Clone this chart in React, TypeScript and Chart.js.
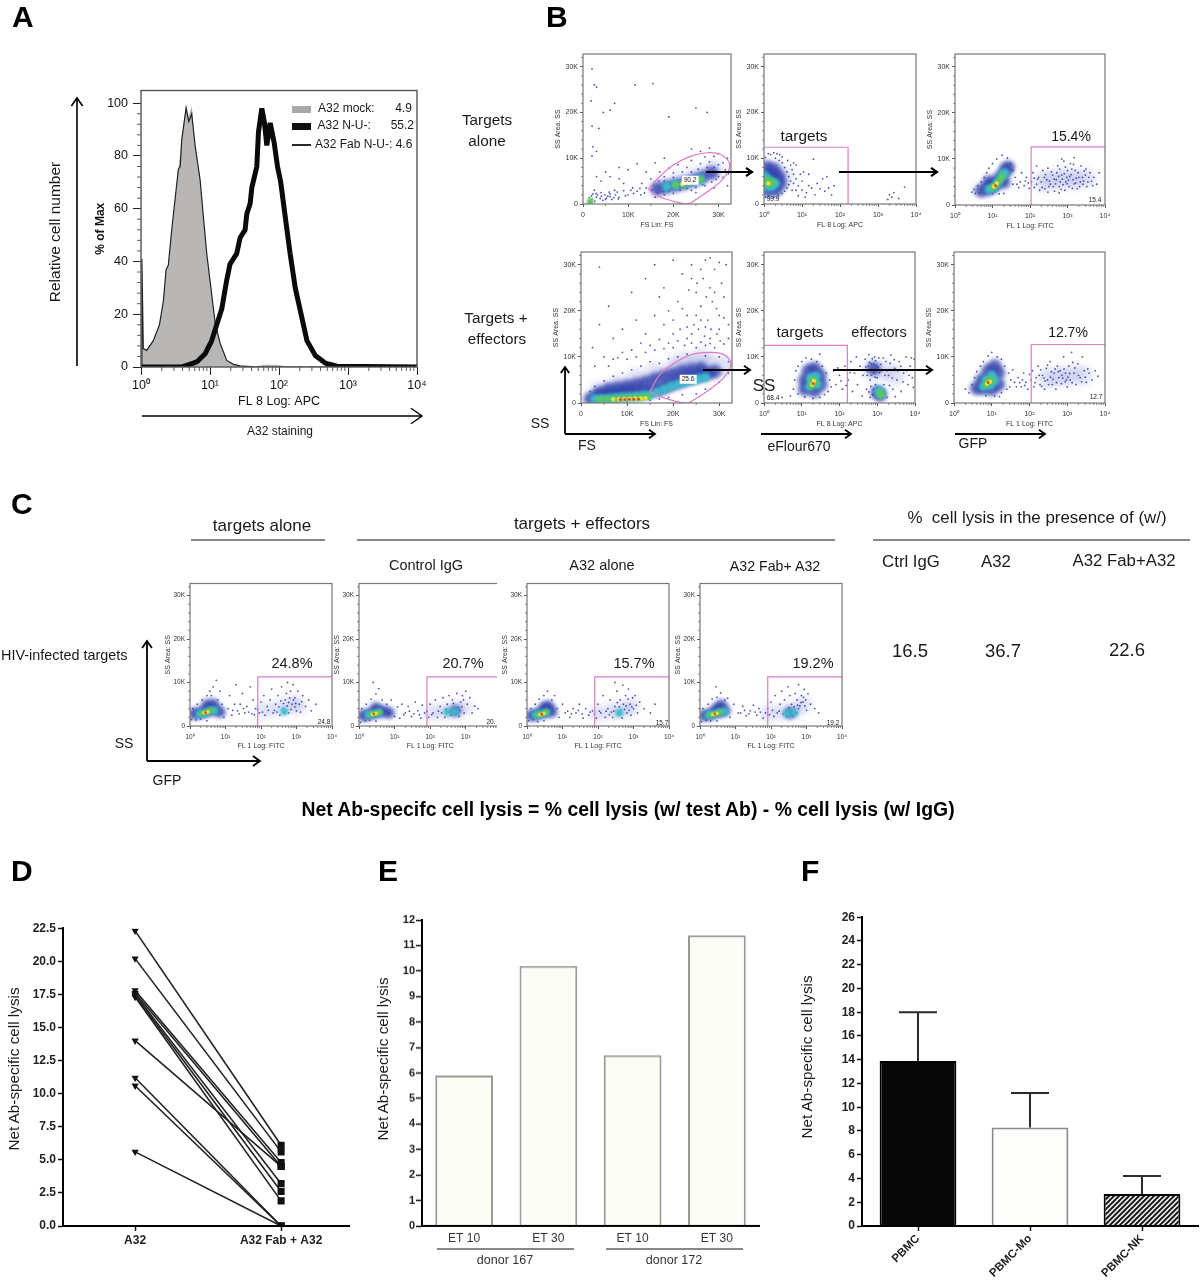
import React, { useEffect, useRef } from "react";
import { Chart, registerables } from "chart.js";

Chart.register(...registerables);
Chart.defaults.font.family = '"Liberation Sans", Arial, sans-serif';

type P = number[];

// ---------- Panel A : histogram values (FL 8 value, % of max) ----------
const mockX = [1, 1.03, 1.08, 1.21, 1.51, 1.85, 2.11, 2.31, 2.49, 2.79, 3.01, 3.48, 3.89, 4.5, 4.92, 5.43, 6.08, 7.18, 8.02, 8.97, 10.3, 11.9, 14, 17.5, 21.9, 27.3, 42.7, 60, 80, 100, 140, 10000];
const mockY = [0, 41, 7, 6.3, 10, 16, 25, 37, 38.6, 52, 60, 75, 86, 100, 95, 99, 84, 71, 57, 43, 30, 16.5, 9, 2.5, 1, 0.4, 0.1, 0.9, 0.9, 0.8, 0.1, 0];
const fabX = [1, 1.03, 1.08, 1.21, 1.51, 1.85, 2.11, 2.31, 2.49, 2.79, 3.01, 3.48, 3.7, 3.89, 4.5, 4.92, 5.43, 6.08, 7.18, 8.02, 8.97, 10.3, 11.9, 14, 17.5, 21.9, 27.3, 42.7, 10000];
const fabY = [0, 41, 7, 6.3, 10, 16, 25, 37, 38.6, 52, 60, 75, 76, 86, 98, 93, 96, 84, 71, 57, 43, 30, 16.5, 9, 2.5, 1, 0.4, 0.1, 0];
const nuX = [1, 3.89, 4.6, 6.43, 8.49, 10.6, 12.5, 14.8, 17.5, 19.5, 24.4, 27.3, 32.3, 34.1, 38.2, 40.4, 47.7, 50.4, 56.4, 61.6, 66.6, 74.5, 85.1, 95.1, 106, 123, 145, 172, 203, 254, 335, 468, 690, 10000];
const nuY = [0, 0, 0.6, 1.9, 5, 10, 16, 22, 33, 39, 43, 49, 52, 58, 62, 68, 76, 89, 98, 92.5, 84, 92.5, 85, 76, 70, 57, 43, 30, 21.5, 10, 4.4, 1.5, 0.3, 0];
const aLegendNames = ["A32 mock:", "A32 N-U-:", "A32 Fab N-U-: 4.6"];
const aLegendValues = ["4.9", "55.2"];

// ---------- Panel B : flow cytometry events ----------
const b1Dots: P[] = [[2,29.5],[2.5,26],[3,25.5],[1.8,22.5],[6,20.5],[4.5,20],[11.5,26],[15.5,26.3],[7,22],[25,21],[27.5,20],[19,19],[2,17],[3.5,16.5],[2.2,12.5],[3,11.5],[2,10.5],[8,8],[10,7.5],[12,8.8],[14,7],[16,9],[18,10],[24,12],[26,11.5],[28,12.2],[30,11],[32,10],[31,9],[29,10.4],[27,10.3],[24,9.5],[21,8.6],[19,7.8],[17,7],[15,5.5],[13,4.5],[11,3.5],[9,4.5],[7,3],[6,2.2],[4,2.5],[3,1.5],[2,1],[2.5,3],[5,1],[8,1.5],[10,2],[12,2.8],[14,3.5],[16,1.5],[18,2],[20,2.3],[24,3],[27,4],[30,6],[31.5,7.5],[32,4],[29,3.5],[25,2.5],[3,6],[4,5],[5,7],[6,6],[8,5.5],[7.2,2],[3.8,1.2],[5.5,1.7],[6.8,1.4],[2.6,0.6],[4.4,0.8],[1.9,1.8],[2.2,2.2],[3.2,2],[4.8,2],[5.8,2.6],[6.4,1],[7.6,2.6],[9,2.9],[10.6,3],[12.6,3.4],[13.6,2.4],[15.2,3],[28,9.2],[26,8.8],[23,8],[30,8.6],[31,7],[22,7],[20,6.8],[18,6],[16.5,2.4],[17.8,2.7],[19,2.9],[21.5,3],[23,3.4],[25,3.6],[26.5,4.2],[28.5,4.8],[29.5,5.4],[31,5.8],[32.2,6.6],[15.5,4.2],[16.8,5],[18,5],[20,5.8],[22,6],[24,7],[25.5,7.6],[27.5,8],[29,8],[1.4,1.4],[2.9,2.3],[4.1,1.7],[5.2,1.3],[6,1.6],[7.8,1.1],[9.4,1.8],[11.2,2.3],[12.8,2]];
const b1Haze: P[] = [[17,3.6],[21,4.8],[25,6],[29,7.6]];
const b1Blue: P[] = [[16.5,3.3],[18.5,3.7],[20.5,4.1],[22.5,4.6],[24.5,5.2],[26.5,5.9],[28.5,6.8]];
const b1Cyan: P[] = [[18.5,3.8],[20.5,4.2],[22.5,4.5],[24.5,5],[26,5.5]];
const b1Green: P[] = [[20.5,4.2],[22.5,4.5],[24.5,5],[26,5.4],[1.6,0.5]];
const b1Yellow: P[] = [[22,4.3],[23.5,4.6]];
const b1Red: P[] = [[22.8,4.4]];
const b1Gate: P[] = [[14.5,3.2],[17,6],[20,8.5],[24,10.5],[27.5,11.2],[30.5,10.8],[32.5,8.5],[31,5.5],[28,3],[25,1],[23,0],[20,0.6],[17,1.6],[14.5,3.2]];

const b2Dots: P[] = [[1.1,1.5],[1.3,1.8],[1.8,1.5],[2.4,2],[3,2.3],[3.5,2.8],[4,3.5],[4.5,4.2],[5,5],[4.5,6],[4,7],[3.5,8],[3,9],[2.5,9.5],[2,10],[1.5,10.8],[1.1,10.2],[2.2,11],[3,10.3],[5.5,3],[6,4.5],[6,6.5],[7,3],[8,4],[10,3],[10,5],[13,2.5],[15,4],[18,3.5],[22,2],[25,4.5],[30,3.3],[35,5.5],[40,2.8],[50,3.5],[60,2],[70,4],[20,9.8],[45,6],[1800,1],[2000,2],[2300,1.5],[2600,2.5],[5000,3.7],[3500,1.2],[15,6.5],[12,1.5],[8,1.8],[7,8.5],[6,9],[5,8.5],[4.2,9.5],[5.5,7.5],[7,5.5],[9,6.5],[11,7],[1.3,11],[1.8,11.2],[2.6,10.8]];
const b2Haze: P[] = [[1.3,5],[1.8,7],[2.4,4.8],[3.2,6]];
const b2Blue: P[] = [[1.2,3],[1.5,4.5],[1.5,6],[1.8,7.5],[1.2,8],[2.6,4.5],[2.4,6],[1.05,5.5],[2,3]];
const b2Cyan: P[] = [[1.2,3.9],[1.5,5],[2,4.5],[1.1,6],[1.6,3.8]];
const b2Green: P[] = [[1.4,4.4],[1.1,4.6],[1.7,4.7],[1.25,5.2]];
const b2Yellow: P[] = [[1.3,4.5]];
const b2Red: P[] = [];
const b2Gate: P[] = [[1,12.4],[163,12.4],[163,0]];

const b3Dots: P[] = [[2.8,2.8],[3.5,2.5],[4.5,2.6],[3.2,3.4],[4,4.2],[5,5],[6,6],[7,7],[8,8],[10,9],[13,10],[18,10.8],[25,10.2],[30,9],[35,7.5],[40,6],[35,4.5],[45,4.5],[55,5],[70,4.2],[80,6],[90,4.8],[110,5],[120,7],[130,3.8],[150,4.5],[170,6],[200,5],[220,7.5],[250,3.5],[280,5.5],[300,8],[350,4.5],[400,6.5],[450,3],[500,5.5],[550,8.5],[600,4],[700,6.5],[800,9.5],[850,3.2],[900,5],[1000,7.5],[1100,4],[1200,9],[1400,5.5],[1600,7.5],[1800,3.5],[2000,6],[2300,8.5],[2600,4.5],[3000,6.5],[3500,5],[4000,7],[5000,6],[6000,4.5],[7000,7],[700,10],[1500,10.3],[300,2.8],[600,2.6],[150,8.5],[60,7],[20,2.5],[15,2.4],[10,2.5],[180,3.2],[260,6.6],[330,5.2],[420,4],[520,7],[640,5],[760,4.4],[950,6],[1250,6.6],[1500,4.6],[1700,5.8],[2200,5],[2800,7.4],[3300,4],[4400,5.2],[130,5.8],[95,3.6],[75,5.2],[50,3.8],[160,5.6],[210,3.8],[240,6],[320,4],[370,7.2],[440,5.6],[480,4.6],[580,6.2],[620,7.8],[680,3.4],[730,5.6],[820,6.8],[880,8.2],[980,4.6],[1050,5.4],[1150,6.2],[1300,7.8],[1350,3.6],[1450,8.8],[1650,4.8],[1900,7],[2100,4],[2500,6],[2700,5.2],[3100,7.8],[3700,6],[4700,4.2]];
const b3Haze: P[] = [[220,5],[400,5.5],[800,5.8],[1500,5.5],[3000,5.8]];
const b3Blue: P[] = [[5,3.1],[7.5,3.5],[12,4.6],[16,6],[22,7.5],[10,4],[26,8.2],[8,5],[20,5]];
const b3Cyan: P[] = [[8,3.4],[11,3.9],[14,5],[18,6.3],[21,7]];
const b3Green: P[] = [[10,3.8],[13,4.5],[16,5.5],[18,6.2]];
const b3Yellow: P[] = [[11,4],[13,4.7]];
const b3Red: P[] = [[12,4.2]];
const b3Gate: P[] = [[10000,12.6],[107,12.6],[107,0]];

const b4Dots: P[] = [[4,29.5],[6,21],[11,24],[14,27],[16,30],[18,25],[20,31],[21,22],[22,28],[23,19],[24,30],[25,24],[25.5,16],[26,21],[26.5,27],[27,31],[27.5,18],[28,25],[28.5,22],[29,29],[29.5,15],[30,19],[30.5,26],[31,23],[31.5,30],[32,17],[23,14],[24,13],[22.5,12.5],[20,15],[18,17],[16,19],[14,15],[12,18],[9,16],[7,14],[4,17],[2.5,12],[5,10],[3,8],[6,8],[8,9.8],[10,9.5],[12,10],[14,11],[16,11.5],[18,11.8],[20,12],[25,12],[27,12.5],[29,12],[31,12.8],[32,14],[24.5,17],[26.8,14.5],[28.2,16],[30.2,13.5],[21.5,16],[19,20],[17,23],[27.2,23],[29.4,20.5],[25.2,26],[23.4,24.5],[15,9],[13,8],[11,7.2],[9,6.5],[7,5.8],[5,4.8],[3,3.6],[2,2.5],[17,8.6],[19,9.6],[21,10],[23,10.6],[27,10.2],[30,10],[32,9],[32,6.5],[30,4.6],[27,3],[25,2],[22,1.8],[19,1.2],[17,0.9],[15,0.6],[10,0.2],[6,0.2],[26,18],[24,15],[28,14],[30,16],[31,18.5],[27,16.5],[23,16.5],[22,20.5],[25,19],[29,24],[26,29],[24,27],[28,31.5],[30,30.5],[20,18],[21,13.5],[19,13],[17,13.8],[15,12.5],[13,13],[11,11.5],[9,11],[7,9.5],[26,13.2],[28,12.9]];
const b4Haze: P[] = [[4,2.6],[8,4],[12,5.5],[16,6.6],[20,7.6],[24,8.2],[28,8.4],[31,8],[22,9],[26,9.8]];
const b4Blue: P[] = [[2,0.9],[3.5,1.2],[5,1.5],[6.5,1.7],[8,1.9],[9.5,2.1],[11,2.2],[12.5,2.3],[14,2.5],[15.5,2.7],[17,3],[18.5,3.6],[20,4.2],[21.5,4.7],[23,5.2],[24.5,5.6],[26,6],[27.5,6.4],[29,6.8],[4,2.2],[6,3],[8,3.3],[10,3.6],[12,4],[14,4.5],[16,5.2],[18,5.8],[20,6.3],[22,6.8],[24,7.2],[26,7.5]];
const b4Cyan: P[] = [[3,0.9],[4.5,0.95],[6,1],[7.5,1.15],[9,1.3],[10.5,1.4],[12,1.5],[13.5,1.65],[15,1.8],[16.5,2.4],[18,3],[19.5,3.6],[21,4.1],[22.5,4.5],[24,4.9],[25.5,5.3],[27,5.6]];
const b4Green: P[] = [[4,0.8],[5.5,0.85],[7,0.9],[8.5,1],[10,1.1],[11.5,1.15],[13,1.2],[14.5,1.4]];
const b4Yellow: P[] = [[7,0.8],[8.2,0.85],[9.4,0.9],[10.6,0.95],[11.8,1],[13,1],[14,1.05]];
const b4Red: P[] = [[8.5,0.75],[9.5,0.75],[10.5,0.8],[11.5,0.8],[12.5,0.8]];
const b4Gate: P[] = [[15,2.5],[17,6],[20,8.5],[24,10.5],[28,11],[31,10.5],[32.5,8.5],[31,5.5],[28,3],[25,1],[23,0],[20,0.5],[17,1.5],[15,2.5]];

const b5Dots: P[] = [[5,1.5],[6,3],[6.5,5],[7,7],[8,8],[10,9],[13,9.8],[18,9.5],[25,9],[35,8],[45,6.5],[55,5],[60,3.5],[50,2.5],[40,1.8],[30,1.2],[20,1],[12,1.3],[8,2],[70,7],[80,4],[100,6],[120,3],[140,8],[170,5],[200,9],[220,2.5],[250,6.5],[280,10],[300,4],[350,8],[400,1.5],[420,6],[480,9.5],[520,3],[560,7],[600,10.5],[650,5],[700,8.5],[750,1.8],[800,6.5],[850,10],[900,4],[950,8],[1000,5.5],[1100,9.8],[1300,7],[1500,4],[1700,9],[2000,6],[2300,10.4],[2600,3],[2900,7.5],[3300,5],[3800,9],[4300,2.5],[5000,6.5],[5800,10],[6500,4],[7500,8],[8500,5.5],[9500,9.5],[650,1.2],[3000,1.4],[1800,1.2],[500,7.8],[620,8.8],[760,7.2],[900,9.2],[1050,7.6],[680,3.6],[1400,2.6],[2100,3.8],[1600,6],[3,1.2],[30,10.6],[540,6],[580,8],[700,6],[740,9.6],[820,8.4],[880,5.6],[1150,6.6],[1250,8.4],[1450,9.8],[1800,7],[2200,8.6],[2500,5.4],[2800,9.4],[3500,7],[4200,8],[4800,4.6],[6000,7],[7000,6],[8000,9.8],[9000,3.4],[1000,3.4],[800,3],[600,2.4],[90,7.6],[110,4.8],[150,3.8],[190,6.6]];
const b5Haze: P[] = [[700,7],[1500,7],[3000,6]];
const b5Blue: P[] = [[12,3],[12,5],[15,7],[22,7.5],[30,6],[32,4],[22,2.6],[18,4.5],[1200,1.8],[1000,2.4],[800,7.5]];
const b5Cyan: P[] = [[16,3.6],[17,5.4],[24,5.8],[26,4],[20,4.6],[1200,2],[1100,2.6]];
const b5Green: P[] = [[18,3.8],[19,5],[23,4.4],[1200,2.2],[1250,1.7]];
const b5Yellow: P[] = [[19,4],[21,4.8]];
const b5Red: P[] = [[20,4.2]];
const b5Gate: P[] = [[1,12.5],[162,12.5],[162,0]];

const b6Dots: P[] = [[2,3],[2.5,2.2],[3,4],[3.5,5.5],[4,6.8],[5,8],[6,9],[8,10.2],[10,11],[14,10],[18,9.5],[22,8],[28,6.5],[32,5],[25,3],[18,2.2],[12,1.5],[7,1.6],[40,4.5],[50,5.5],[60,3.5],[70,6.5],[80,4.5],[90,3],[110,5],[120,7],[130,3.5],[150,5.5],[170,8],[190,4],[220,6],[250,3],[280,7.5],[300,5],[350,9],[400,4],[450,6.5],[500,3],[550,8],[600,5.5],[700,4.2],[800,10],[900,6.5],[1000,3.5],[1100,8],[1200,5],[1300,11],[1500,6.5],[1700,4],[1900,8.5],[2200,5.5],[2500,10],[2800,7],[3200,4.5],[3800,6.5],[4500,5],[5500,7],[6500,5.8],[300,8.2],[650,7],[480,7.4],[360,5.6],[260,4.8],[200,7.2],[760,5.4],[880,4.6],[1050,5.6],[1400,8.8],[30,3.5],[36,7.2],[16,1.4],[45,3.5],[55,4.4],[65,5],[75,3.8],[100,6.2],[140,4.4],[180,6],[210,3.6],[240,5.4],[320,4],[380,6.8],[420,5.2],[520,4.4],[580,6.8],[720,6],[820,7.4],[950,5],[1150,6.4],[1350,4.4],[1600,7.6],[2000,6],[2400,4.6],[3000,5.6],[3500,7.4]];
const b6Haze: P[] = [[300,5.4],[600,5.6],[1200,6],[2500,6]];
const b6Blue: P[] = [[4,3.2],[5.5,5],[8,7],[12,8],[15,6.5],[15,4],[10,3],[6,3.2],[8,4.8]];
const b6Cyan: P[] = [[6,3.6],[7,5],[10,6],[12,4.8],[9,3.8]];
const b6Green: P[] = [[7,3.9],[8,5],[10,4.8]];
const b6Yellow: P[] = [[7.5,4.2],[9,4.6]];
const b6Red: P[] = [[8,4.4]];
const b6Gate: P[] = [[10000,12.7],[111,12.7],[111,0]];

// ---------- Panel C : flow cytometry events ----------
const c1Dots: P[] = [[1.1,1.5],[1.5,1.4],[2,1.6],[3,1.2],[1.2,4],[1.6,5],[2.2,6],[3,7],[3.6,8],[4.5,9],[5.5,10.5],[4,7],[6,6],[7,8],[8,5],[9,2],[12,4],[13,7],[15,2.5],[18,5],[20,9.5],[22,3.5],[26,5],[30,7.5],[35,3],[40,4.5],[50,9],[55,2.8],[60,6],[70,4],[90,3],[100,5.5],[120,7],[130,2.5],[150,4.5],[180,6],[200,8.5],[220,3],[260,5],[300,7],[340,2.5],[380,9],[420,4],[480,6],[520,7.5],[560,10],[600,3],[680,8],[750,5],[800,9.5],[900,6.5],[1000,3.5],[1100,8],[1200,5],[1500,7],[1800,4.5],[2200,6],[2600,3.5],[3500,5],[600,5.4],[430,5.2],[320,4.4],[240,3.6],[700,3.8],[900,4.4],[1300,3.2],[16,3.6],[24,2.8],[32,4],[45,3.2],[65,2.6],[80,3.8],[110,3.2],[160,3.6],[280,3.2],[360,5.8],[460,3],[550,4.6],[640,6.4],[820,6],[950,5.2],[1400,5.6]];
const c1Haze: P[] = [[120,3.6],[300,4],[700,5],[1100,4.6]];
const c1Blue: P[] = [[1.3,2.8],[1.8,3],[2.5,3.2],[3.5,3.6],[5,3.8],[3,4.8],[4.5,5],[7,3.2]];
const c1Cyan: P[] = [[1.8,2.8],[2.5,3],[3.5,3.5],[5,3.6],[450,3.4]];
const c1Green: P[] = [[2.2,2.9],[3,3.2],[4,3.7]];
const c1Yellow: P[] = [[2.5,3.1],[3.2,3.3]];
const c1Red: P[] = [[2.7,3.1]];
const c2Dots: P[] = [[1.1,0.8],[1.5,1.2],[2,1.3],[3,1.1],[1.2,4],[1.6,5],[2.2,6.2],[3,7.4],[3.6,8.6],[2.5,10],[4.5,6],[6,5],[7,3],[8,6],[10,2.2],[12,4.4],[14,1.8],[16,5],[20,3],[24,4.5],[30,2.2],[38,5.5],[45,3.5],[55,1.8],[60,4.8],[70,3],[90,2],[100,5],[120,3],[140,6],[160,2],[190,4.5],[230,6.5],[260,2],[300,5],[340,7],[380,2.5],[420,6],[500,4],[560,7.5],[640,2.2],[720,5.5],[800,7],[900,3],[1000,8],[1100,5],[1300,6.5],[1500,3],[1800,4.6],[2200,4],[450,5.2],[620,4.2],[780,4.4],[860,6],[18,2.6],[26,3.4],[35,2.8],[50,2.6],[80,3.4],[110,2.6],[170,3.4],[210,3],[280,3.8],[360,3.2],[520,2.8],[680,3.6]];
const c2Haze: P[] = [[110,3.1],[250,3.4],[500,3.6],[900,4.2]];
const c2Blue: P[] = [[1.3,2.4],[1.8,2.6],[2.5,3],[3.5,3.2],[5,3.4],[3,4.2],[7,3],[500,3.5]];
const c2Cyan: P[] = [[1.8,2.6],[2.5,2.8],[3.5,3.1],[300,3.2],[500,3.3]];
const c2Green: P[] = [[2.2,2.7],[3,2.9],[3.8,3.2]];
const c2Yellow: P[] = [[2.4,2.7],[3,2.9]];
const c2Red: P[] = [[2.6,2.8]];
const c3Dots: P[] = [[1.1,1.2],[1.5,1.5],[2,1],[3,1.2],[1.3,4],[1.7,5],[2.2,6.2],[3,7],[3.8,8],[5,6],[6,7],[7,4],[8,2],[10,5],[12,3],[16,2],[20,4],[24,3],[30,5],[38,1.8],[45,4],[55,2.5],[70,3.5],[90,1.8],[100,5],[120,3],[140,7],[160,2],[190,4],[220,6],[260,2],[300,4.5],[340,8],[380,3],[420,6],[480,1.8],[520,5],[600,7],[650,3],[720,8.5],[800,5],[850,2.5],[950,6.5],[1000,4],[1100,7],[1300,3],[1500,5.5],[2000,4],[3000,3],[4000,5],[300,10],[500,9.4],[700,6.2],[560,3.8],[400,4.4],[240,3.2],[14,3.4],[18,2.8],[28,3.6],[36,2.8],[60,3.2],[80,2.8],[110,3.4],[170,3.4],[210,2.6],[280,3.4],[350,5.4],[450,3.6],[620,4.6],[750,3.6],[900,4.4],[1200,4.8]];
const c3Haze: P[] = [[100,3],[250,3.4],[500,3.6],[900,4.6]];
const c3Blue: P[] = [[1.3,2.4],[1.8,2.6],[2.5,3],[3.5,3.3],[5,3.3],[3,4.2],[4,4.6]];
const c3Cyan: P[] = [[1.7,2.5],[2.4,2.8],[3.5,3.1],[400,3]];
const c3Green: P[] = [[2,2.6],[2.7,2.8],[3.5,3.2]];
const c3Yellow: P[] = [[2.3,2.6],[3,2.9]];
const c3Red: P[] = [[2.6,2.7]];
const c4Dots: P[] = [[1.1,1],[1.5,1.3],[2,1.2],[3,1.2],[1.2,4],[1.7,5],[2.2,6.2],[3,6.6],[3.8,7.6],[2.8,9],[5,6],[6,6.4],[7,2],[9,5],[12,3],[16,4.5],[20,2.4],[26,3.5],[32,4.8],[40,2.5],[50,3.2],[60,1.8],[80,4],[90,2.6],[100,5.5],[120,2.2],[130,7],[150,3],[180,5],[200,8],[240,6],[280,2.2],[300,9],[340,7],[380,5],[420,2.4],[480,7.5],[540,6],[600,9.5],[650,4.6],[720,7],[800,5.5],[860,8.4],[950,6],[1000,3.6],[1100,7.4],[1300,5],[1700,4],[2200,3],[520,3],[600,4],[280,3.6],[380,3.2],[450,4.4],[14,3],[18,3.6],[24,2.8],[36,3.2],[46,4],[70,3],[110,3.6],[170,3.4],[220,2.8],[320,4.2],[560,4.8],[700,5.4],[820,6.6],[900,4.6]];
const c4Haze: P[] = [[90,3],[220,3.2],[450,3.5],[800,5]];
const c4Blue: P[] = [[1.3,2.4],[1.8,2.6],[2.5,3],[3.5,3.3],[5,3.5],[3,4],[4,4.8],[350,3]];
const c4Cyan: P[] = [[1.7,2.5],[2.4,2.8],[3.5,3.2],[5,3.4],[280,2.9],[450,3.1]];
const c4Green: P[] = [[2,2.6],[2.7,2.8],[3.6,3.2]];
const c4Yellow: P[] = [[2.3,2.7],[3,2.9]];
const c4Red: P[] = [[2.6,2.8]];
const cGate: P[] = [[10000,11.3],[81,11.3],[81,0]];

const ssTicks = [0, 10, 20, 30];
const fsTicks = [0, 10, 20, 30];
const logTicks = [1, 10, 100, 1000, 10000];
const logTickLabels = ["10⁰", "10¹", "10²", "10³", "10⁴"];

// ---------- Panel D ----------
const dCategories = ["A32", "A32 Fab + A32"];
const dA32 = [22.3, 20.2, 17.8, 17.6, 17.5, 17.4, 17.3, 14, 11.2, 10.6, 5.6];
const dFab = [6.1, 5.6, 4.8, 4.5, 3.2, 2.6, 1.9, 4.5, 0, 0, 0];
const dTicks = [0, 2.5, 5, 7.5, 10, 12.5, 15, 17.5, 20, 22.5];

// ---------- Panel E ----------
const eCategories = ["ET 10", "ET 30", "ET 10", "ET 30"];
const eValues = [5.9, 10.2, 6.7, 11.4];

// ---------- Panel F ----------
const fCategories = ["PBMC", "PBMC-Mo", "PBMC-NK"];
const fValues = [13.9, 8.3, 2.7];
const fErrorTops = [18, 11.2, 4.2];

// ---------- helpers ----------
const pts = (a: P[]) => a.map(([x, y]) => ({ x, y }));
const fixed = (size: number) => (s: any) => {
  if (s.isHorizontal()) s.height = size;
  else s.width = size;
};
const setTicks = (vals: number[]) => (s: any) => {
  s.ticks = vals.map((value) => ({ value }));
};
const logMinor: number[] = [];
[1, 10, 100, 1000].forEach((d) => [2, 3, 4, 5, 6, 7, 8, 9].forEach((m) => logMinor.push(d * m)));
const ssMinor = [2, 4, 6, 8, 12, 14, 16, 18, 22, 24, 26, 28, 32];
const fsMinor = [5, 15, 25];

function minorPlugin(xs: number[], ys: number[], len: number, color: string) {
  return {
    id: "minorTicks",
    afterDraw(chart: any) {
      const { ctx, chartArea, scales } = chart;
      ctx.save();
      ctx.strokeStyle = color;
      ctx.lineWidth = 0.8;
      ctx.beginPath();
      xs.forEach((v) => {
        const p = scales.x.getPixelForValue(v);
        ctx.moveTo(p, chartArea.bottom);
        ctx.lineTo(p, chartArea.bottom + len);
      });
      ys.forEach((v) => {
        const p = scales.y.getPixelForValue(v);
        ctx.moveTo(chartArea.left, p);
        ctx.lineTo(chartArea.left - len, p);
      });
      ctx.stroke();
      ctx.restore();
    },
  };
}
function framePlugin(color: string, w: number) {
  return {
    id: "frame",
    afterDraw(chart: any) {
      const { ctx, chartArea: a } = chart;
      ctx.save();
      ctx.strokeStyle = color;
      ctx.lineWidth = w;
      ctx.strokeRect(a.left, a.top, a.right - a.left, a.bottom - a.top);
      ctx.restore();
    },
  };
}
const blurPlugin = {
  id: "softBands",
  beforeDatasetDraw(chart: any, args: any) {
    const b = chart.data.datasets[args.index].soft;
    if (b) {
      chart.ctx.save();
      chart.ctx.filter = `blur(${b}px)`;
    }
  },
  afterDatasetDraw(chart: any, args: any) {
    if (chart.data.datasets[args.index].soft) chart.ctx.restore();
  },
};
function errorPlugin(tops: number[], capHalf: number) {
  return {
    id: "errorBars",
    afterDatasetsDraw(chart: any) {
      const { ctx, scales } = chart;
      const meta = chart.getDatasetMeta(0);
      ctx.save();
      ctx.strokeStyle = "#2b2b2b";
      ctx.lineWidth = 2;
      tops.forEach((t, i) => {
        const x = meta.data[i].x;
        const y0 = scales.y.getPixelForValue(fValues[i]);
        const y1 = scales.y.getPixelForValue(t);
        ctx.beginPath();
        ctx.moveTo(x, y0);
        ctx.lineTo(x, y1);
        ctx.moveTo(x - capHalf, y1);
        ctx.lineTo(x + capHalf, y1);
        ctx.stroke();
      });
      ctx.restore();
    },
  };
}
function hatch() {
  const c = document.createElement("canvas");
  c.width = 5;
  c.height = 5;
  const g = c.getContext("2d")!;
  g.fillStyle = "#e8e8e8";
  g.fillRect(0, 0, 5, 5);
  g.strokeStyle = "#111";
  g.lineWidth = 1.9;
  g.beginPath();
  g.moveTo(-1, 6);
  g.lineTo(6, -1);
  g.moveTo(-1, 1);
  g.lineTo(1, -1);
  g.moveTo(4, 6);
  g.lineTo(6, 4);
  g.stroke();
  return g.createPattern(c, "repeat")!;
}

// m = wanted distance from the canvas top to the plot area; the canvas is grown upward if layout takes more.
function ChartBox({ x, y, w, h, m, make }: any) {
  const ref = useRef<HTMLCanvasElement>(null);
  useEffect(() => {
    const chart = new Chart(ref.current!, make());
    const extra = Math.round(chart.chartArea.top - m);
    if (extra > 0) {
      chart.resize(w, h + extra);
      ref.current!.style.top = y - extra + "px";
    }
    return () => chart.destroy();
  }, []);
  return <canvas ref={ref} width={w} height={h} style={{ position: "absolute", left: x, top: y, width: w, height: h }} />;
}

const baseOptions = (right: number, top: number) => ({
  responsive: false,
  maintainAspectRatio: false,
  animation: false as const,
  layout: { padding: { right, top, left: 0, bottom: 0 } },
  plugins: { legend: { display: false }, tooltip: { enabled: false } },
});

// ---------- flow plot definitions ----------
const bandRadius = [10, 6.8, 4.8, 3.4, 2.2, 1.4];
const bandSoft = [3, 2, 1.5, 1, 0.7, 0.4];
const bandColor = ["rgba(60,75,190,0.16)", "rgba(46,62,170,0.8)", "rgba(60,190,205,0.95)", "#5cc75a", "#e6df3c", "#e5412a"];
const flowPlots = [
  { x: 583, y: 54, w: 148, h: 150, lin: true, xt: "FS Lin: FS", dots: b1Dots, bands: [b1Haze, b1Blue, b1Cyan, b1Green, b1Yellow, b1Red], gate: b1Gate, smooth: true, f: 7, k: 1, lm: 29, bm: 25 },
  { x: 764, y: 54, w: 152, h: 150, lin: false, xt: "FL 8 Log: APC", dots: b2Dots, bands: [b2Haze, b2Blue, b2Cyan, b2Green, b2Yellow, b2Red], gate: b2Gate, f: 7, k: 1, lm: 29, bm: 25 },
  { x: 955, y: 54, w: 150, h: 151, lin: false, xt: "FL 1 Log: FITC", dots: b3Dots, bands: [b3Haze, b3Blue, b3Cyan, b3Green, b3Yellow, b3Red], gate: b3Gate, f: 7, k: 1, lm: 29, bm: 25 },
  { x: 581, y: 252, w: 151, h: 151, lin: true, xt: "FS Lin: FS", dots: b4Dots, bands: [b4Haze, b4Blue, b4Cyan, b4Green, b4Yellow, b4Red], gate: b4Gate, smooth: true, f: 7, k: 1, lm: 29, bm: 25 },
  { x: 764, y: 252, w: 151, h: 151, lin: false, xt: "FL 8 Log: APC", dots: b5Dots, bands: [b5Haze, b5Blue, b5Cyan, b5Green, b5Yellow, b5Red], gate: b5Gate, f: 7, k: 1, lm: 29, bm: 25 },
  { x: 954, y: 252, w: 151, h: 151, lin: false, xt: "FL 1 Log: FITC", dots: b6Dots, bands: [b6Haze, b6Blue, b6Cyan, b6Green, b6Yellow, b6Red], gate: b6Gate, f: 7, k: 1, lm: 29, bm: 25 },
  { x: 190, y: 584, w: 142, h: 142, lin: false, xt: "FL 1 Log: FITC", dots: c1Dots, bands: [c1Haze, c1Blue, c1Cyan, c1Green, c1Yellow, c1Red], gate: cGate, f: 6.5, k: 0.85, lm: 26, bm: 24 },
  { x: 359, y: 584, w: 142.4, h: 142, lin: false, xt: "FL 1 Log: FITC", dots: c2Dots, bands: [c2Haze, c2Blue, c2Cyan, c2Green, c2Yellow, c2Red], gate: cGate, f: 6.5, k: 0.85, lm: 26, bm: 24, cut: true },
  { x: 527, y: 584, w: 142, h: 142, lin: false, xt: "FL 1 Log: FITC", dots: c3Dots, bands: [c3Haze, c3Blue, c3Cyan, c3Green, c3Yellow, c3Red], gate: cGate, f: 6.5, k: 0.85, lm: 26, bm: 24 },
  { x: 700, y: 584, w: 142, h: 142, lin: false, xt: "FL 1 Log: FITC", dots: c4Dots, bands: [c4Haze, c4Blue, c4Cyan, c4Green, c4Yellow, c4Red], gate: cGate, f: 6.5, k: 0.85, lm: 26, bm: 24 },
];

function flowConfig(p: any) {
  const sets: any[] = [];
  const point = (data: P[], i: number) => ({
    data: pts(data),
    pointRadius: bandRadius[i] * p.k,
    pointBackgroundColor: bandColor[i],
    pointBorderWidth: 0,
    showLine: false,
    soft: bandSoft[i],
  });
  sets.push(point(p.bands[0], 0));
  sets.push({ data: pts(p.dots), pointRadius: 0.9, pointBackgroundColor: "rgba(45,55,170,0.85)", pointBorderWidth: 0, showLine: false });
  for (let i = 1; i < 6; i++) sets.push(point(p.bands[i], i));
  sets.push({
    data: pts(p.gate),
    showLine: true,
    pointRadius: 0,
    borderColor: "#e07cc4",
    borderWidth: 1.2,
    tension: p.smooth ? 0.4 : 0,
  });
  const tickFont = { size: p.f };
  const titleFont = { size: 7 };
  const common = {
    afterFit: fixed(p.bm),
    grid: { drawOnChartArea: false, tickLength: 3, color: "#555" },
    border: { display: false },
    title: { display: true, text: p.xt, font: titleFont, color: "#333", padding: 0 },
  };
  return {
    type: "scatter" as const,
    data: { datasets: sets.reverse() },
    options: {
      ...baseOptions(12, 6),
      scales: {
        x: p.lin
          ? {
              ...common,
              type: "linear" as const,
              min: 0,
              max: 32.768,
              afterBuildTicks: setTicks(fsTicks),
              ticks: { font: tickFont, color: "#333", padding: 4, maxRotation: 0, autoSkip: false, callback: (v: number) => (v === 0 ? "0" : v + "K") },
            }
          : {
              ...common,
              type: "logarithmic" as const,
              min: 1,
              max: 10000,
              afterBuildTicks: setTicks(logTicks),
              ticks: {
                font: tickFont,
                color: "#333",
                padding: 4,
                maxRotation: 0,
                autoSkip: false,
                callback: (v: number) => {
                  const i = logTicks.indexOf(v);
                  if (p.cut && i === 4) return "";
                  return logTickLabels[i] ?? "";
                },
              },
            },
        y: {
          type: "linear" as const,
          min: 0,
          max: 32.768,
          afterBuildTicks: setTicks(ssTicks),
          afterFit: fixed(p.lm),
          grid: { drawOnChartArea: false, tickLength: 3, color: "#555" },
          border: { display: false },
          ticks: { font: tickFont, color: "#333", padding: 2, autoSkip: false, callback: (v: number) => (v === 0 ? "0" : v + "K") },
          title: { display: true, text: "SS Area: SS", font: titleFont, color: "#333", padding: 0 },
        },
      },
    },
    plugins: [
      blurPlugin,
      minorPlugin(p.lin ? fsMinor : logMinor, ssMinor, 2, "#666"),
      framePlugin("#777", 1.2),
    ],
  };
}

function configA() {
  const xy = (xs: number[], ys: number[]) => xs.map((x, i) => ({ x, y: ys[i] }));
  return {
    type: "scatter" as const,
    data: {
      datasets: [
        { data: xy(nuX, nuY), showLine: true, pointRadius: 0, borderColor: "#0a0a0a", borderWidth: 5, borderJoinStyle: "bevel" as const },
        { data: xy(fabX, fabY), showLine: true, pointRadius: 0, borderColor: "#222", borderWidth: 1.2 },
        { data: xy(mockX, mockY), showLine: true, pointRadius: 0, borderWidth: 0, borderColor: "#b9b7b6", backgroundColor: "#b9b7b6", fill: "origin" },
      ],
    },
    options: {
      ...baseOptions(14, 6),
      scales: {
        x: {
          type: "logarithmic" as const,
          min: 1,
          max: 10000,
          afterBuildTicks: setTicks(logTicks),
          afterFit: fixed(42),
          grid: { drawOnChartArea: false, tickLength: 8, color: "#222" },
          border: { display: false },
          ticks: { font: { size: 12.5 }, color: "#111", padding: 3, maxRotation: 0, autoSkip: false, callback: (v: number) => logTickLabels[logTicks.indexOf(v)] ?? "" },
          title: { display: true, text: "FL 8 Log: APC", font: { size: 12.5 }, color: "#111", padding: 0 },
        },
        y: {
          type: "linear" as const,
          min: 0,
          max: 104.8,
          afterBuildTicks: setTicks([0, 20, 40, 60, 80, 100]),
          afterFit: fixed(48),
          grid: { drawOnChartArea: false, tickLength: 8, color: "#222" },
          border: { display: false },
          ticks: { font: { size: 12.5 }, color: "#111", padding: 5, autoSkip: false },
          title: { display: true, text: "% of Max", font: { size: 12, weight: "bold" as const }, color: "#111", padding: 0 },
        },
      },
    },
    plugins: [
      minorPlugin(logMinor, [4, 8, 12, 16, 24, 28, 32, 36, 44, 48, 52, 56, 64, 68, 72, 76, 84, 88, 92, 96], 4, "#333"),
      framePlugin("#555", 1.4),
    ],
  };
}

function configD() {
  return {
    type: "scatter" as const,
    data: {
      datasets: dA32.map((a, i) => ({
        data: [{ x: 0, y: a }, { x: 1, y: dFab[i] }],
        showLine: true,
        borderColor: "#222",
        borderWidth: 1.6,
        pointRadius: [4.2, 5],
        pointStyle: ["triangle", "rect"],
        pointRotation: [180, 0],
        pointBackgroundColor: "#111",
        pointBorderColor: "#111",
        pointBorderWidth: 0,
      })),
    },
    options: {
      ...baseOptions(6, 8),
      layout: { padding: { right: 0, top: 8, left: 0, bottom: 0 } },
      scales: {
        x: {
          type: "linear" as const,
          min: -0.494,
          max: 1.465,
          afterBuildTicks: setTicks([0, 1]),
          afterFit: fixed(30),
          grid: { drawOnChartArea: false, tickLength: 5, color: "#111", tickWidth: 1.5 },
          border: { color: "#000", width: 2, z: 1 },
          ticks: { font: { size: 12, weight: "bold" as const }, color: "#222", padding: 2, maxRotation: 0, autoSkip: false, callback: (v: number) => dCategories[v] ?? "" },
        },
        y: {
          type: "linear" as const,
          min: 0,
          max: 22.5,
          afterBuildTicks: setTicks(dTicks),
          afterFit: fixed(62),
          grid: { drawOnChartArea: false, tickLength: 5, color: "#111", tickWidth: 1.5 },
          border: { color: "#000", width: 2, z: 1 },
          ticks: { font: { size: 12, weight: "bold" as const }, color: "#222", padding: 2, autoSkip: false, callback: (v: number) => v.toFixed(1) },
        },
      },
    },
    plugins: [],
  };
}

function configE() {
  return {
    type: "bar" as const,
    data: {
      labels: eCategories,
      datasets: [{ data: eValues, backgroundColor: "#fdfdf8", borderColor: "#999994", borderWidth: 2, categoryPercentage: 1, barPercentage: 0.685 }],
    },
    options: {
      ...baseOptions(2, 8),
      scales: {
        x: {
          afterFit: fixed(28),
          grid: { drawOnChartArea: false, drawTicks: false },
          border: { color: "#000", width: 2, z: 1 },
          ticks: { font: { size: 12 }, color: "#333", padding: 5, maxRotation: 0, autoSkip: false },
        },
        y: {
          type: "linear" as const,
          min: 0,
          max: 12,
          afterBuildTicks: setTicks([0, 1, 2, 3, 4, 5, 6, 7, 8, 9, 10, 11, 12]),
          afterFit: fixed(42),
          grid: { drawOnChartArea: false, tickLength: 6, color: "#111", tickWidth: 1.5 },
          border: { color: "#000", width: 2, z: 1 },
          ticks: { font: { size: 11, weight: "bold" as const }, color: "#222", padding: 1, autoSkip: false },
        },
      },
    },
    plugins: [],
  };
}

function configF() {
  return {
    type: "bar" as const,
    data: {
      labels: fCategories,
      datasets: [{
        data: fValues,
        backgroundColor: ["#070707", "#fdfdfb", hatch()],
        borderColor: ["#000", "#8a8a8a", "#000"],
        borderWidth: 2,
        categoryPercentage: 1,
        barPercentage: 0.685,
      }],
    },
    options: {
      ...baseOptions(2, 8),
      scales: {
        x: {
          afterFit: fixed(54),
          grid: { drawOnChartArea: false, tickLength: 5, color: "#111", tickWidth: 1.5, offset: false },
          border: { color: "#000", width: 2, z: 1 },
          ticks: { font: { size: 11.5, weight: "bold" as const }, color: "#222", padding: 1, maxRotation: 45, minRotation: 45, autoSkip: false },
        },
        y: {
          type: "linear" as const,
          min: 0,
          max: 26,
          afterBuildTicks: setTicks([0, 2, 4, 6, 8, 10, 12, 14, 16, 18, 20, 22, 24, 26]),
          afterFit: fixed(30),
          grid: { drawOnChartArea: false, tickLength: 5, color: "#111", tickWidth: 1.5 },
          border: { color: "#000", width: 2, z: 1 },
          ticks: { font: { size: 12, weight: "bold" as const }, color: "#222", padding: 2, autoSkip: false },
        },
      },
    },
    plugins: [errorPlugin(fErrorTops, 19)],
  };
}

function T({ x, y, s, size = 14, a = "c", bold = false, rot = 0, color = "#1a1a1a", bg }: any) {
  const tx = a === "l" ? "0" : a === "r" ? "-100%" : "-50%";
  return (
    <div
      style={{
        position: "absolute",
        left: x,
        top: y,
        transform: `translate(${tx},-50%)` + (rot ? ` rotate(${rot}deg)` : ""),
        fontFamily: '"Liberation Sans", Arial, sans-serif',
        fontSize: size,
        fontWeight: bold ? 700 : 400,
        color,
        whiteSpace: "pre",
        lineHeight: 1,
        background: bg,
        padding: bg ? "1px 2px" : 0,
      }}
    >
      {s}
    </div>
  );
}

// arrows: [x1, y1, x2, y2, width, head]
const arrows = [
  [77, 366, 77, 98, 1.6, 8],
  [142, 416, 422, 416, 1.4, 11],
  [706, 172, 752, 172, 2.2, 6],
  [839, 172, 937, 172, 2.2, 6],
  [703, 370, 750, 370, 2, 6],
  [833, 370, 932, 370, 2, 6],
  [565, 434, 565, 367, 1.8, 6],
  [565, 434, 655, 434, 1.8, 6],
  [761, 434, 851, 434, 1.8, 6],
  [955, 434, 1045, 434, 1.8, 6],
  [147, 761, 147, 641, 1.8, 7],
  [147, 761, 260, 761, 1.8, 7],
];
// rules: [x1, x2, y, width]
const rules = [
  [191, 325, 540, 1.2], [357, 835, 540, 1.2], [873, 1190, 540, 1.2],
  [437, 574, 1249, 1], [606, 743, 1249, 1],
];

function Overlay() {
  return (
    <svg width={1200} height={1280} style={{ position: "absolute", left: 0, top: 0, pointerEvents: "none" }}>
      {arrows.map(([x1, y1, x2, y2, w, h], i) => {
        const dx = Math.sign(x2 - x1), dy = Math.sign(y2 - y1);
        const d = `M${x2 - dx * h - dy * h * 0.7} ${y2 - dy * h - dx * h * 0.7}L${x2} ${y2}L${x2 - dx * h + dy * h * 0.7} ${y2 - dy * h + dx * h * 0.7}`;
        return (
          <g key={i} stroke="#000" strokeWidth={w} fill="none">
            <line x1={x1} y1={y1} x2={x2} y2={y2} />
            <path d={d} />
          </g>
        );
      })}
      {rules.map(([a, b, y, w], i) => (
        <line key={i} x1={a} x2={b} y1={y} y2={y} stroke="#111" strokeWidth={w} />
      ))}
      <rect x={292} y={106} width={19} height={7} fill="#aaa8a7" />
      <rect x={292} y={123} width={19} height={7} fill="#111" />
      <line x1={292} x2={311} y1={145} y2={145} stroke="#111" strokeWidth={1.8} />
    </svg>
  );
}

export default function App() {
  return (
    <div style={{ position: "absolute", left: 0, top: 0, width: 1200, height: 1280, background: "#fff", overflow: "hidden" }}>
      <ChartBox x={141 - 48} y={91 - 6} w={48 + 276 + 14} h={6 + 276 + 42} m={6} make={configA} />

      {flowPlots.map((p, i) => (
        <React.Fragment key={i}>
          <ChartBox x={p.x - p.lm} y={p.y - 6} w={p.lm + p.w + 12} h={6 + p.h + p.bm} m={6} make={() => flowConfig(p)} />
          {p.cut && <div style={{ position: "absolute", left: 497, top: 578, width: 7, height: 152, background: "#fff" }} />}
        </React.Fragment>
      ))}

      <ChartBox x={0.5} y={927.7 - 8} w={353} h={8 + 298 + 30} m={8} make={configD} />
      <ChartBox x={421.5 - 42} y={920 - 8} w={42 + 337 + 2} h={8 + 305.7 + 28} m={8} make={configE} />
      <ChartBox x={861.5 - 30} y={916.7 - 8} w={30 + 336 + 2} h={8 + 309 + 54} m={8} make={configF} />

      <Overlay />

      {/* panel letters */}
      <T x={12} y={17} s="A" size={30} a="l" bold color="#000" />
      <T x={546} y={17} s="B" size={30} a="l" bold color="#000" />
      <T x={11} y={504} s="C" size={30} a="l" bold color="#000" />
      <T x={11} y={871} s="D" size={30} a="l" bold color="#000" />
      <T x={378} y={871} s="E" size={30} a="l" bold color="#000" />
      <T x={801} y={871} s="F" size={30} a="l" bold color="#000" />

      {/* A */}
      <T x={55} y={232} s="Relative cell number" size={15.5} rot={-90} />
      <T x={318} y={108} s={aLegendNames[0]} size={12} a="l" />
      <T x={412} y={108} s={aLegendValues[0]} size={12} a="r" />
      <T x={317.5} y={125} s={aLegendNames[1]} size={12} a="l" />
      <T x={414} y={125} s={aLegendValues[1]} size={12} a="r" />
      <T x={315} y={144} s={aLegendNames[2]} size={12} a="l" />
      <T x={280} y={431} s="A32 staining" size={12} />

      {/* B */}
      <T x={487} y={120} s="Targets" size={15.3} />
      <T x={487} y={141} s="alone" size={15.3} />
      <T x={496} y={318} s="Targets +" size={15.3} />
      <T x={497} y={339} s="effectors" size={15.3} />
      <T x={804} y={136} s="targets" size={15.3} />
      <T x={1071} y={136} s="15.4%" size={14} />
      <T x={800} y={332} s="targets" size={15.3} />
      <T x={879} y={332} s="effectors" size={14.5} />
      <T x={1068} y={332} s="12.7%" size={14} />
      <T x={540} y={423} s="SS" size={14} />
      <T x={587} y={445} s="FS" size={14} />
      <T x={764} y={385} s="SS" size={17} />
      <T x={799} y={446} s="eFlour670" size={14} />
      <T x={973} y={443} s="GFP" size={14} />
      <T x={690} y={180} s="90.2" size={6.5} bg="#fff" />
      <T x={688} y={379} s="25.6" size={6.5} bg="#fff" />
      <T x={773} y={199} s="99.9" size={6.5} />
      <T x={773} y={398} s="68.4" size={6.5} />
      <T x={1095} y={200} s="15.4" size={6.5} />
      <T x={1096} y={397} s="12.7" size={6.5} />

      {/* C */}
      <T x={262} y={525} s="targets alone" size={17} />
      <T x={582} y={523} s="targets + effectors" size={17} />
      <T x={426} y={565} s="Control IgG" size={14.5} />
      <T x={602} y={565} s="A32 alone" size={14.5} />
      <T x={775} y={566} s="A32 Fab+ A32" size={14.2} />
      <T x={1037} y={518} s="%  cell lysis in the presence of (w/)" size={16.9} />
      <T x={911} y={562} s="Ctrl IgG" size={16.8} />
      <T x={996} y={562} s="A32" size={16.8} />
      <T x={1124} y={561} s="A32 Fab+A32" size={16.8} />
      <T x={910} y={651} s="16.5" size={18.5} />
      <T x={1003} y={651} s="36.7" size={18.5} />
      <T x={1127} y={650} s="22.6" size={18.5} />
      <T x={1} y={655} s="HIV-infected targets" size={14.4} a="l" />
      <T x={124} y={743} s="SS" size={14} />
      <T x={167} y={780} s="GFP" size={14} />
      <T x={292} y={663} s="24.8%" size={14.5} />
      <T x={463} y={663} s="20.7%" size={14.5} />
      <T x={634} y={663} s="15.7%" size={14.5} />
      <T x={813} y={663} s="19.2%" size={14.5} />
      <T x={324} y={722} s="24.8" size={6.5} />
      <T x={491} y={722} s="20." size={6.5} />
      <T x={662} y={723} s="15.7" size={6.5} />
      <T x={833} y={723} s="19.2" size={6.5} />
      <T x={628} y={810} s="Net Ab-specifc cell lysis = % cell lysis (w/ test Ab) - % cell lysis (w/ IgG)" size={19.4} bold color="#000" />

      {/* D, E, F */}
      <T x={14} y={1069} s="Net Ab-specific cell lysis" size={15.3} rot={-90} />
      <T x={383} y={1059} s="Net Ab-specific cell lysis" size={15.3} rot={-90} />
      <T x={807} y={1057} s="Net Ab-specific cell lysis" size={15.3} rot={-90} />
      <T x={505} y={1260} s="donor 167" size={12.5} color="#333" />
      <T x={674} y={1260} s="donor 172" size={12.5} color="#333" />
    </div>
  );
}
